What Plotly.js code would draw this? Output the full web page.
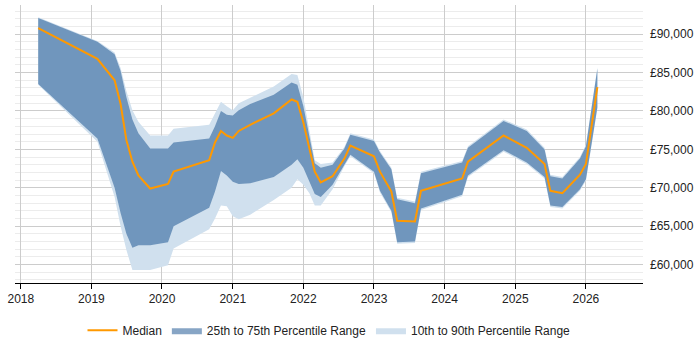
<!DOCTYPE html>
<html>
<head>
<meta charset="utf-8">
<script src="https://cdn.plot.ly/plotly-3.0.1.min.js"></script>
<style>
  html, body { margin: 0; padding: 0; background: #fff; }
  #chart { width: 700px; height: 350px; }
</style>
</head>
<body>
<div id="chart"></div>
<script>
// Salary percentiles over time (GBP)
const dates = [
  '2018-04-01', '2019-02-01', '2019-05-01', '2019-06-01', '2019-07-01', '2019-08-01',
  '2019-09-01', '2019-11-01', '2020-02-01', '2020-03-01', '2020-09-01', '2020-10-01',
  '2020-11-01', '2020-12-01', '2021-01-01', '2021-02-01', '2021-04-01', '2021-08-01',
  '2021-11-01', '2021-12-01', '2022-01-01', '2022-02-01', '2022-03-01', '2022-04-01',
  '2022-06-01', '2022-08-01', '2022-09-01', '2023-01-01', '2023-02-01', '2023-04-01',
  '2023-05-01', '2023-08-01', '2023-09-01', '2024-04-01', '2024-05-01', '2024-11-01',
  '2025-03-01', '2025-06-01', '2025-07-01', '2025-09-01', '2025-12-01', '2026-01-01',
  '2026-03-01'
];

const median = [
  90800, 86800, 84000, 80900, 76200, 73400,
  71600, 69900, 70500, 72100, 73600, 75900,
  77400, 76800, 76500, 77400, 78200, 79700,
  81500, 81200, 78500, 75100, 72100, 70700,
  71500, 73800, 75500, 74100, 72100, 69500,
  65700, 65600, 69600, 71200, 73400, 76800,
  75200, 73100, 69600, 69300, 71700, 73100,
  83100
];

const p25 = [
  83500, 76400, 70000, 66700, 64000, 62200,
  62500, 62500, 62900, 65000, 67400, 69500,
  72200, 71600, 70800, 70500, 70600, 71400,
  73000, 73700, 72600, 70900, 69200, 68800,
  70400, 73000, 74300, 72100, 69600, 67000,
  62900, 63000, 67300, 69100, 71600, 74900,
  73300, 71400, 67700, 67500, 69800, 71100,
  80500
];

const p75 = [
  92100, 89000, 87400, 85200, 81800, 78900,
  77100, 75100, 75100, 75900, 76400, 78000,
  80000, 79500, 79400, 80100, 80900, 82100,
  83700, 83400, 80600, 76500, 73200, 72600,
  73000, 75100, 76900, 76100, 74600, 72400,
  68500, 68000, 71900, 73300, 75200, 78700,
  77400, 75000, 71500, 71200, 73800, 75400,
  85500
];

const p10 = [
  83400, 76000, 68800, 65000, 61900, 59300,
  59300, 59300, 59900, 62100, 64600, 66000,
  67700, 67600, 66300, 65900, 66500, 68400,
  70000, 71100, 70400, 69300, 67700, 67700,
  69800, 72800, 74100, 71900, 69400, 66800,
  62700, 62800, 67100, 68900, 71400, 74700,
  73100, 71200, 67500, 67300, 69600, 70900,
  80300
];

const p90 = [
  92200, 89100, 87600, 85600, 82600, 80100,
  78600, 76800, 76800, 77700, 78200, 79600,
  81200, 80600, 80100, 81000, 81700, 83200,
  84800, 84700, 81800, 77500, 73600, 73100,
  73300, 75300, 77100, 76300, 74800, 72600,
  68700, 68200, 72100, 73500, 75400, 78900,
  77600, 75200, 71700, 71400, 74000, 75600,
  85700
];

const yearTicks = ['2018-01-01', '2019-01-01', '2020-01-01', '2021-01-01', '2022-01-01',
                   '2023-01-01', '2024-01-01', '2025-01-01', '2026-01-01'];
const yearLabels = ['2018', '2019', '2020', '2021', '2022', '2023', '2024', '2025', '2026'];

const LIGHT = '#d0e0ee';
const DARK = 'rgba(15,75,139,0.5)';
const ORANGE = '#ff9900';

const traces = [
  { x: dates, y: p10, type: 'scatter', mode: 'lines',
    line: { width: 0, color: LIGHT }, showlegend: false, hoverinfo: 'skip' },
  { x: dates, y: p90, type: 'scatter', mode: 'lines', fill: 'tonexty',
    fillcolor: LIGHT, line: { width: 0, color: LIGHT },
    name: '10th to 90th Percentile Range', legendrank: 3 },
  { x: dates, y: p25, type: 'scatter', mode: 'lines',
    line: { width: 0, color: DARK }, showlegend: false, hoverinfo: 'skip' },
  { x: dates, y: p75, type: 'scatter', mode: 'lines', fill: 'tonexty',
    fillcolor: DARK, line: { width: 0, color: DARK },
    name: '25th to 75th Percentile Range', legendrank: 2 },
  { x: dates, y: median, type: 'scatter', mode: 'lines',
    line: { width: 2, color: ORANGE },
    name: 'Median', legendrank: 1 }
];

const layout = {
  width: 700,
  height: 350,
  margin: { l: 15, r: 57, t: 5, b: 58 },
  paper_bgcolor: '#fff',
  plot_bgcolor: '#fff',
  font: { family: '"Liberation Sans", Arial, sans-serif', size: 12, color: '#222' },
  showlegend: true,
  legend: {
    orientation: 'h',
    traceorder: 'normal',
    x: 0.5, xanchor: 'center',
    y: -0.17, yanchor: 'middle',
    font: { size: 12, color: '#222' },
    itemwidth: 30
  },
  xaxis: {
    type: 'date',
    range: ['2017-12-02', '2026-10-23'],
    tickvals: yearTicks,
    ticktext: yearLabels,
    showgrid: true,
    gridcolor: '#cccccc',
    gridwidth: 1,
    showline: true,
    linecolor: '#000',
    linewidth: 1,
    ticks: 'outside',
    ticklen: 5,
    tickcolor: '#000',
    zeroline: false,
    fixedrange: true
  },
  yaxis: {
    side: 'right',
    range: [57600, 93800],
    tick0: 0,
    dtick: 5000,
    tickprefix: '£',
    tickformat: ',d',
    showgrid: true,
    gridcolor: '#cccccc',
    gridwidth: 1,
    minor: { dtick: 1000, tick0: 0, showgrid: true, gridcolor: '#ececec', gridwidth: 1 },
    showline: false,
    zeroline: false,
    ticks: '',
    ticklabelstandoff: 6,
    fixedrange: true
  }
};

Plotly.newPlot('chart', traces, layout, { staticPlot: true, displayModeBar: false });
</script>
</body>
</html>
